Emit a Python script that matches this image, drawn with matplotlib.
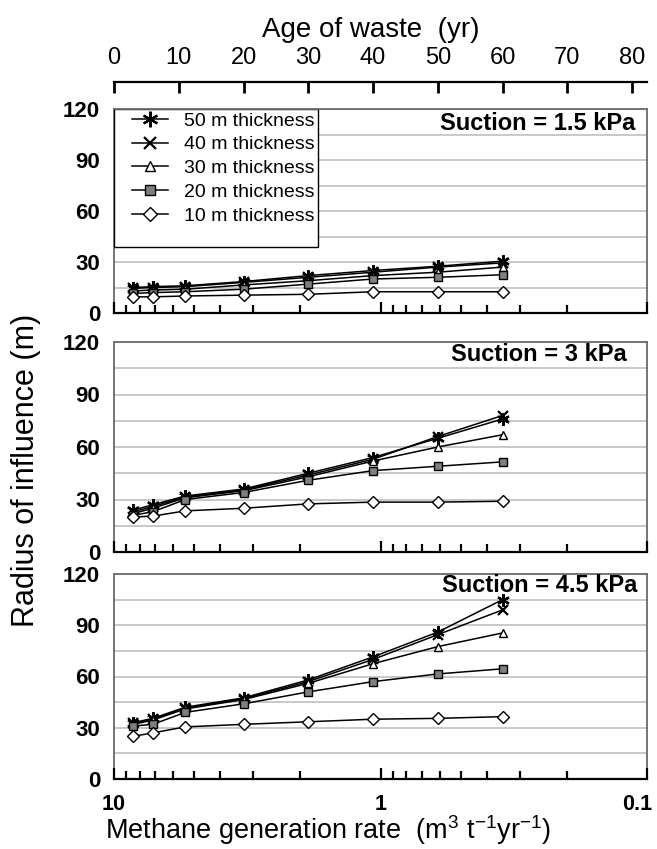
import numpy as np
import matplotlib
matplotlib.use("Agg")
import matplotlib.pyplot as plt
from matplotlib.patches import Rectangle
from matplotlib.ticker import NullFormatter
from matplotlib.transforms import ScaledTranslation

plt.rcParams['font.family'] = ['Liberation Sans', 'DejaVu Sans']
plt.rcParams['mathtext.fontset'] = 'custom'
plt.rcParams['mathtext.rm'] = 'Liberation Sans'
plt.rcParams['mathtext.it'] = 'Liberation Sans:italic'

# age of waste (yr) at which the radius was computed
age = [3, 6, 11, 20, 30, 40, 50, 60]
thickness = ["50 m thickness", "40 m thickness", "30 m thickness",
             "20 m thickness", "10 m thickness"]

# radius of influence (m), one row per waste thickness (50, 40, 30, 20, 10 m)
radius_suction_15 = [
    [15, 15.5, 16, 18.5, 22, 25, 27.5, 30.5],
    [14.5, 15, 15.5, 18, 21, 24, 27, 29.5],
    [13, 13.5, 14, 16.5, 19, 22, 24, 27],
    [11.5, 12, 12.5, 14, 17, 20, 21, 22.5],
    [9.5, 9.5, 10, 10.5, 11, 12.5, 12.5, 12.5],
]
radius_suction_3 = [
    [24, 27, 32, 36, 45, 54, 65, 76],
    [23, 26, 31.5, 35.5, 44, 53, 66, 78],
    [22, 25, 31, 35, 43, 52, 60, 67],
    [21, 23, 30, 34, 41, 46.5, 49, 51.5],
    [20, 20.5, 23.5, 25, 27.5, 28.5, 28.5, 29],
]
radius_suction_45 = [
    [33, 35.5, 42, 47.5, 58, 71.5, 86, 105],
    [32.5, 35, 41.5, 47, 57, 70, 84.5, 99],
    [32, 34.5, 41, 46.5, 56, 67.5, 77.5, 85.5],
    [31, 32, 39, 44, 51, 57, 61.5, 64.5],
    [25, 27, 30.5, 32, 33.5, 35, 35.5, 36.5],
]
panel_titles = ["Suction = 1.5 kPa", "Suction = 3 kPa", "Suction = 4.5 kPa"]

rate_major = [10, 1, 0.1]
rate_minor = [9, 8, 7, 6, 5, 4, 3, 2, 0.9, 0.8, 0.7, 0.6, 0.5, 0.4, 0.3, 0.2]
age_ticks = list(range(0, 81, 10))

styles = [
    dict(marker=(6, 2, 0), ms=9, mfc='k', mec='k', mew=1.6),
    dict(marker='x', ms=7, mec='k', mew=1.6),
    dict(marker='^', ms=6, mfc='white', mec='k', mew=1.0),
    dict(marker='s', ms=6, mfc='#7f7f7f', mec='k', mew=1.0),
    dict(marker='D', ms=6, mfc='white', mec='k', mew=1.0),
]

W, H = 657, 849
fig = plt.figure(figsize=(W / 100, H / 100), dpi=100)

left, right = 114, 647
panels_px = [(109, 313), (342, 552), (574, 779)]
title_pos = [(635, 112), (627, 343), (637, 574)]
datasets = [radius_suction_15, radius_suction_3, radius_suction_45]

axes = []
for i, (top, bot) in enumerate(panels_px):
    ax = fig.add_axes([left / W, 1 - bot / H, (right - left) / W, (bot - top) / H])
    axes.append(ax)
    ax.set_xlim(0, 82.3)
    ax.set_ylim(0, 120)

    for row, lab, st in zip(datasets[i], thickness, styles):
        ax.plot(age, row, color='k', lw=1.1, label=lab, zorder=3, **st)

    ax.set_yticks([0, 30, 60, 90, 120], ['0', '30', '60', '90', '120'],
                  fontweight='bold', fontsize=16)
    ax.set_yticks([15, 45, 75, 105], minor=True)
    ax.yaxis.grid(True, which='both', color='#c4c4c4', lw=1.3)
    ax.tick_params(axis='y', which='both', length=0, pad=10)
    ax.set_axisbelow(True)

    for s in ['left', 'right', 'top']:
        ax.spines[s].set_color('#6a6a6a')
        ax.spines[s].set_linewidth(1.3)
    ax.spines['bottom'].set_color('k')
    ax.spines['bottom'].set_linewidth(1.6)

    # log axis of methane generation rate along the bottom of every panel
    axl = ax.twiny()
    axl.set_xscale('log')
    axl.set_xlim(10, 0.1)
    axl.xaxis.set_ticks_position('bottom')
    axl.xaxis.set_label_position('bottom')
    axl.set_xticks(rate_major, ['10', '1', '0.1'], fontweight='bold', fontsize=15.5)
    axl.set_xticks(rate_minor, minor=True)
    axl.xaxis.set_minor_formatter(NullFormatter())
    axl.tick_params(axis='x', which='major', direction='in', length=8, width=1.6, pad=11)
    axl.tick_params(axis='x', which='minor', direction='in', length=5.5, width=1.6)
    for s in axl.spines.values():
        s.set_visible(False)
    if i < 2:
        axl.tick_params(axis='x', which='both', labelbottom=False)
    else:
        last = axl.get_xticklabels()[-1]
        last.set_transform(last.get_transform()
                           + ScaledTranslation(-10 / 100, 0, fig.dpi_scale_trans))

    if i == 0:
        # age of waste axis drawn above the first panel
        ax.set_xticks(age_ticks)
        ax.xaxis.set_ticks_position('top')
        ax.spines['top'].set_position(('outward', 19.5))
        ax.spines['top'].set_color('k')
        ax.spines['top'].set_linewidth(1.6)
        ax.tick_params(axis='x', direction='in', length=8, width=2, pad=9.5,
                       labelsize=17, top=True, labeltop=True,
                       bottom=False, labelbottom=False)
        axl.spines['top'].set_visible(True)
        axl.spines['top'].set_color('#6a6a6a')
        axl.spines['top'].set_linewidth(1.3)
    else:
        ax.set_xticks([])
        ax.tick_params(axis='x', bottom=False, top=False, labelbottom=False)

    tx, ty = title_pos[i]
    ax.text((tx - left) / (right - left), 1 - (ty - top) / (bot - top), panel_titles[i],
            transform=ax.transAxes, ha='right', va='top', fontsize=17,
            fontweight='bold', zorder=6)

# legend box in the first panel
ax1 = axes[0]
p1h = panels_px[0][1] - panels_px[0][0]
box_h = 138 / p1h
ax1.add_patch(Rectangle((0, 1 - box_h), 204 / (right - left), box_h,
                        transform=ax1.transAxes, fc='white', ec='k', lw=1.0, zorder=4))
leg = ax1.legend(loc='upper left', bbox_to_anchor=(18 / (right - left), 1 - 3 / p1h),
                 frameon=False, borderpad=0, borderaxespad=0, fontsize=14,
                 handlelength=1.85, handletextpad=0.85, labelspacing=0.32,
                 markerscale=1.25)
leg.set_zorder(5)

fig.text(371 / W, 1 - 37 / H, 'Age of waste  (yr)', ha='center', va='baseline', fontsize=20)
fig.text(0.5, 1 - 839 / H, r'Methane generation rate  (m$^3$ t$^{-1}$yr$^{-1}$)',
         ha='center', va='baseline', fontsize=19.5)
fig.text(26 / W, 1 - 470 / H, 'Radius of influence (m)', rotation=90,
         ha='center', va='center', fontsize=22)

fig.savefig('out.png', dpi=100)
